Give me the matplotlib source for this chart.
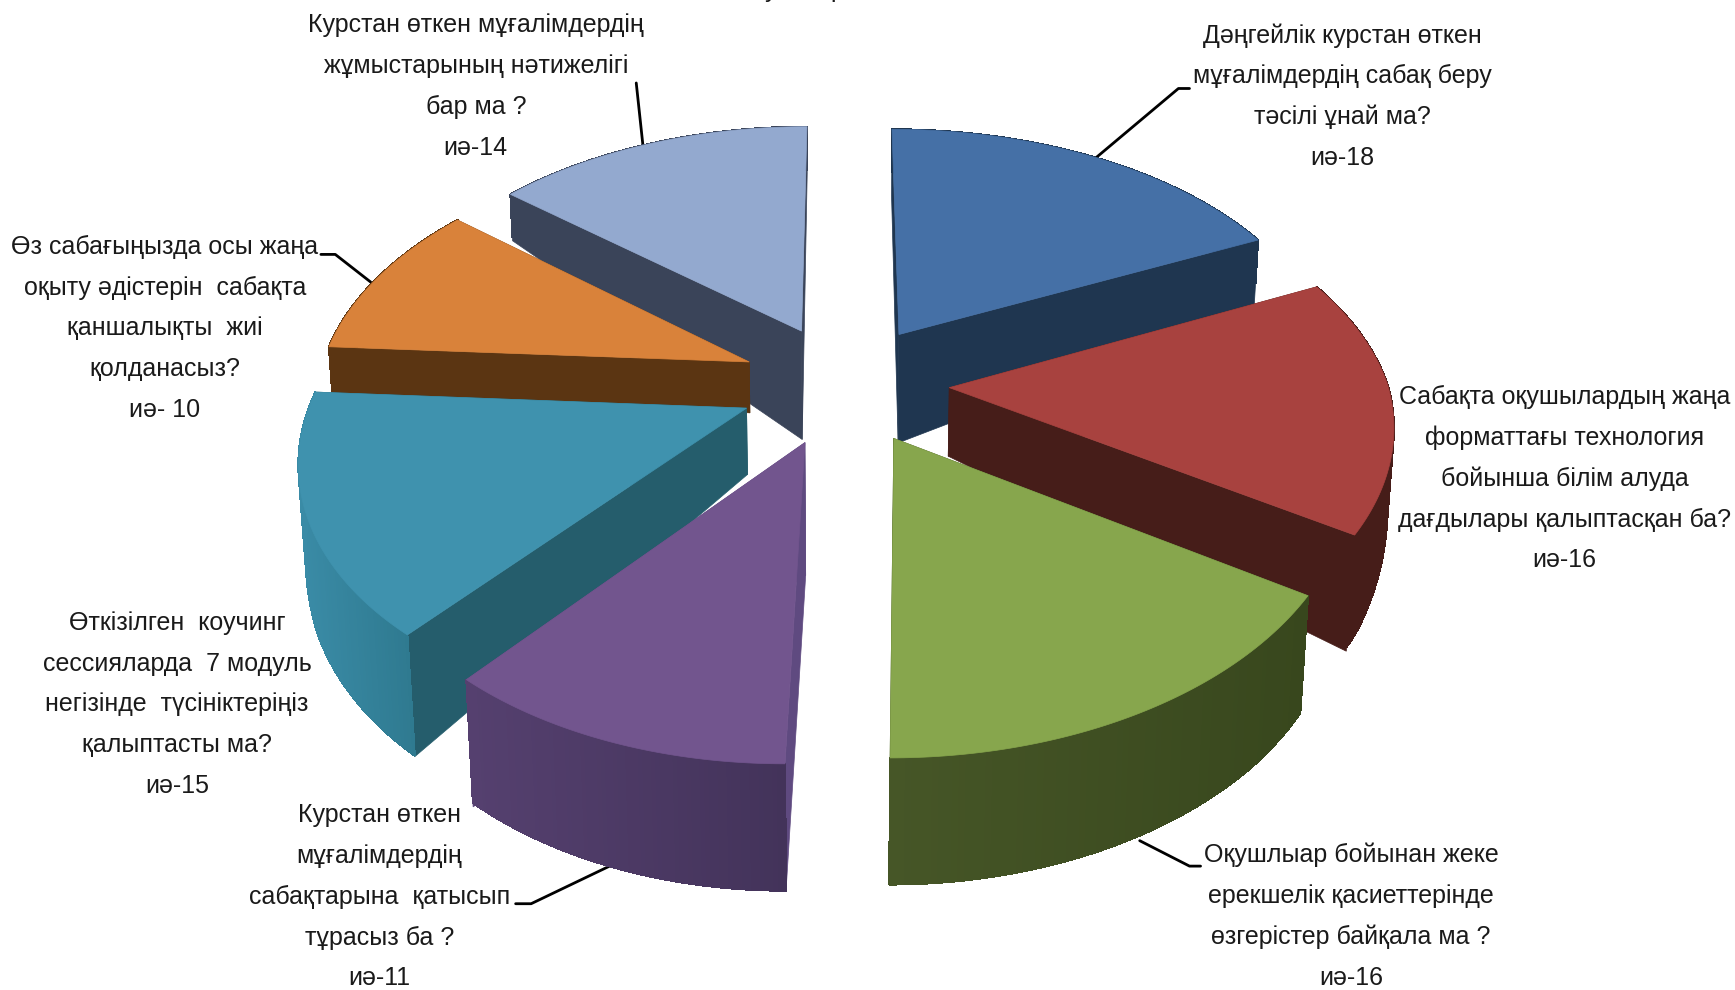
import numpy as np
import matplotlib
matplotlib.use('Agg')
import matplotlib.pyplot as plt

plt.rcParams['font.family'] = ['Liberation Sans Narrow', 'Liberation Sans', 'DejaVu Sans']

# data, clockwise from 12 o'clock
values = [18, 16, 16, 11, 15, 10, 14]
value_tags = ['иә-18', 'иә-16', 'иә-16', 'иә-11', 'иә-15', 'иә- 10', 'иә-14']
questions = [
    ['Дәңгейлік курстан өткен', 'мұғалімдердің сабақ беру', 'тәсілі ұнай ма?'],
    ['Сабақта оқушылардың жаңа', 'форматтағы технология', 'бойынша білім алуда', 'дағдылары қалыптасқан ба?'],
    ['Оқушлыар бойынан жеке', 'ерекшелік қасиеттерінде', 'өзгерістер байқала ма ?'],
    ['Курстан өткен', 'мұғалімдердің', 'сабақтарына  қатысып', 'тұрасыз ба ?'],
    ['Өткізілген  коучинг', 'сессияларда  7 модуль', 'негізінде  түсініктеріңіз', 'қалыптасты ма?'],
    ['Өз сабағыңызда осы жаңа', 'оқыту әдістерін  сабақта', 'қаншалықты  жиі', 'қолданасыз?'],
    ['Курстан өткен мұғалімдердің', 'жұмыстарының нәтижелігі', 'бар ма ?'],
]

# styles per slice
top_colors = ['#4570A6', '#A8423F', '#87A64D', '#72558E', '#3F92AE', '#D9823A', '#93A9CF']
wall_colors = ['#1F3650', '#461D19', '#3B4A1E', '#5F4A80', '#255D6C', '#5B3512', '#3A4459']
rim_left = ['#1F3650', '#461D19', '#465627', '#55406F', '#3A8BA6', '#5B3512', '#3A4459']
rim_right = ['#1F3650', '#461D19', '#38471D', '#43335A', '#2F7A90', '#5B3512', '#3A4459']
apex_depth = [98, 62, 115, 120, 60, 46, 98]
outer_depth = [60, 105, 107, 115, 110, 44, 42]
draw_order = [6, 0, 5, 1, 4, 3, 2]

# label layout: centre x, first line y
label_x = [1213, 1414, 1221, 343, 160, 149, 430]
label_y = [32, 359, 773, 737, 563, 223, 23]
line_gap = 36.9
leaders = [
    [(990, 143), (1065, 80), (1075, 80)],
    None,
    [(1030, 760), (1075, 783), (1085, 783)],
    [(553, 782), (480, 817), (466, 817)],
    None,
    [(335, 255), (303, 230), (290, 230)],
    [(581, 131), (575, 75)],
]

# camera of the fake perspective
CX, CY = 763, 347
AX, BY = 396, 227
KX, KY = 0.15, 0.155
SKEW = 12
EXPLODE = 0.24
LEFT_SQUEEZE = 0.985


def project(x, f):
    f = np.asarray(f, dtype=float)
    x = np.where(x < 0, x * LEFT_SQUEEZE, x)
    return CX + AX * x / (1 - KX * f) - SKEW * np.maximum(f, 0), CY + BY * f / (1 - KY * f)


def rim_depth(f):
    return np.interp(f, [-0.3, 0.5, 0.9, 1.25], [39, 100, 110, 115])


def drop(px, py, h):
    # vertical edges lean slightly towards the middle
    return px - (px - CX) * h / 6400, py + h


fig = plt.figure(figsize=(17.35, 9.9), dpi=100)
ax = fig.add_axes([0, 0, 1, 1])
ax.set_xlim(0, 1568)
ax.set_ylim(895, 0)
ax.axis('off')

edges = np.cumsum([0] + values) / sum(values) * 2 * np.pi

for i in draw_order:
    a0, a1 = edges[i], edges[i + 1]
    mid = (a0 + a1) / 2
    ox, of = EXPLODE * np.sin(mid), -EXPLODE * np.cos(mid)
    th = np.linspace(a0, a1, 80)
    wx, wf = ox + np.sin(th), of - np.cos(th)
    px, py = project(wx, wf)
    apx, apy = project(ox, of)
    col = wall_colors[i]

    # the two cut faces
    for k in (0, -1):
        bx0, by0 = drop(apx, apy, apex_depth[i])
        bx1, by1 = drop(px[k], py[k], outer_depth[i])
        ax.fill([apx, px[k], bx1, bx0], [apy, py[k], by1, by0], color=col, lw=0.5)

    # rim, shaded left to right
    h = rim_depth(wf)
    bx, by = drop(px, py, h)
    c0 = np.array(matplotlib.colors.to_rgb(rim_left[i]))
    c1 = np.array(matplotlib.colors.to_rgb(rim_right[i]))
    ax.fill(np.r_[px, bx[::-1]], np.r_[py, by[::-1]], color=(c0 + c1) / 2, lw=0.5)
    xs = (px - px.min()) / (px.max() - px.min())
    for k in range(len(th) - 1):
        c = c0 + (c1 - c0) * (xs[k] + xs[k + 1]) / 2
        ax.fill([px[k], px[k + 1], bx[k + 1], bx[k]], [py[k], py[k + 1], by[k + 1], by[k]],
                color=c, lw=0.8, antialiased=False)

    # top face
    ax.fill(np.r_[apx, px], np.r_[apy, py], color=top_colors[i], lw=0.5)

# labels
for i, q in enumerate(questions):
    lines = q + [value_tags[i]]
    for n, line in enumerate(lines):
        ax.text(label_x[i], label_y[i] + n * line_gap, line, ha='center', va='center',
                fontsize=18, color='#1a1a1a', zorder=20)
    if leaders[i]:
        lx, ly = zip(*leaders[i])
        ax.plot(lx, ly, color='black', lw=2, zorder=0.5, solid_capstyle='round')

# title is cut off by the top of the picture, only descenders remain
ax.text(697, -9, 'у', ha='center', va='center', fontsize=18, color='#1a1a1a', clip_on=False)
ax.text(757, -9, 'р', ha='center', va='center', fontsize=18, color='#1a1a1a', clip_on=False)

fig.savefig('out.png', dpi=100, facecolor='white')
